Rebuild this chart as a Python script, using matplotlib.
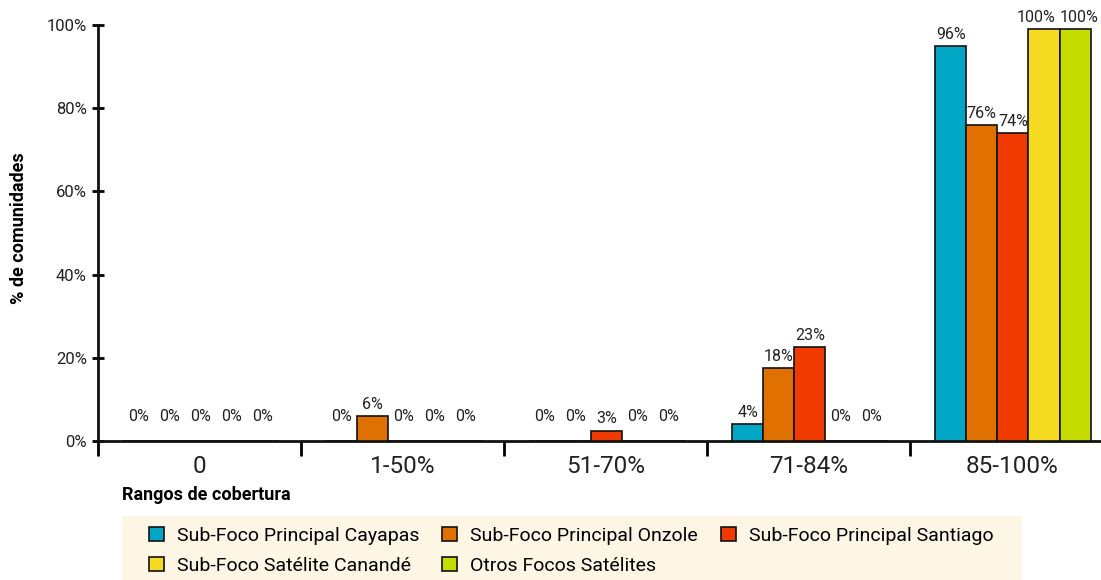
import matplotlib
matplotlib.use('Agg')
import numpy as np
import matplotlib.pyplot as plt
from matplotlib.patches import Patch, Rectangle

plt.rcParams['font.family'] = ['Roboto', 'DejaVu Sans']

# categories and series
categories = ['0', '1-50%', '51-70%', '71-84%', '85-100%']
series = ['Sub-Foco Principal Cayapas', 'Sub-Foco Principal Onzole',
          'Sub-Foco Principal Santiago', 'Sub-Foco Satélite Canandé',
          'Otros Focos Satélites']
colors = ['#00A6C4', '#E07000', '#F03A00', '#F5DA22', '#C4DC00']

# bar heights (as drawn) and printed labels, per series across categories
cayapas = [0, 0, 0, 4, 95]
onzole = [0, 6, 0, 17.5, 76]
santiago = [0, 0, 2.5, 22.5, 74]
canande = [0, 0, 0, 0, 99]
otros = [0, 0, 0, 0, 99]
values = [cayapas, onzole, santiago, canande, otros]

cayapas_lbl = ['0%', '0%', '0%', '4%', '96%']
onzole_lbl = ['0%', '6%', '0%', '18%', '76%']
santiago_lbl = ['0%', '0%', '3%', '23%', '74%']
canande_lbl = ['0%', '0%', '0%', '0%', '100%']
otros_lbl = ['0%', '0%', '0%', '0%', '100%']
labels = [cayapas_lbl, onzole_lbl, santiago_lbl, canande_lbl, otros_lbl]

yticks = [0, 20, 40, 60, 80, 100]

fig = plt.figure(figsize=(11.01, 5.8), dpi=100)
ax = fig.add_axes([98 / 1101, 139 / 580, 1 - 98 / 1101, 416 / 580])

x = np.arange(len(categories))
w = 0.153
for i, (vals, lbls) in enumerate(zip(values, labels)):
    pos = x + (i - 2) * w + 0.007
    ax.bar(pos, vals, w, color=colors[i], edgecolor='#111111', linewidth=1.2, zorder=3)
    for p, v, t in zip(pos, vals, lbls):
        if v > 0:
            # nudge the two touching 100% labels apart a little
            dx = -6 if t == '100%' and i == 3 else (3 if t == '100%' else 0)
            ax.annotate(t, (p, v), xytext=(dx, 3), textcoords='offset points',
                        ha='center', va='bottom', fontsize=11.5, color='#222222')
        else:
            ax.text(p, 4, t, ha='center', va='bottom', fontsize=11.5, color='#222222')

ax.set_yticks(yticks)
ax.set_yticklabels([f'{t}%' for t in yticks], fontsize=12, color='#222222')
ax.tick_params(axis='y', direction='inout', length=8, width=2, pad=4)

# category boundaries as ticks, names at centres
ax.set_xticks(np.arange(len(categories) + 1) - 0.5)
ax.set_xticklabels([])
ax.set_xticks(x, minor=True)
ax.set_xticklabels(categories, minor=True, fontsize=17.5, color='#222222')
ax.tick_params(axis='x', which='major', direction='out', length=11, width=2)
ax.tick_params(axis='x', which='minor', length=0, pad=10)

ax.set_xlim(-0.5, -0.5 + 1003 / 203)
ax.set_ylim(0, 100)

for s in ['top', 'right']:
    ax.spines[s].set_visible(False)
for s in ['left', 'bottom']:
    ax.spines[s].set_linewidth(2)
    ax.spines[s].set_color('#111111')

fig.text(19 / 1101, 1 - 228 / 580, '% de comunidades', fontsize=13,
         fontweight='bold', rotation=90, ha='center', va='center')
fig.text(122 / 1101, 1 - 495 / 580, 'Rangos de cobertura', fontsize=13,
         fontweight='bold', ha='left', va='center')

# legend panel background
fig.add_artist(Rectangle((122 / 1101, 0), 900 / 1101, 64 / 580,
                         transform=fig.transFigure, facecolor='#FEF6E4',
                         edgecolor='none', zorder=0))

handles = [Patch(facecolor=c, edgecolor='#111111', linewidth=1.2) for c in colors]
order = [0, 3, 1, 4, 2]
leg = fig.legend([handles[k] for k in order], [series[k] for k in order],
                 ncol=3, loc='upper left',
                 bbox_to_anchor=(149 / 1101, 1 - 527 / 580),
                 fontsize=14, frameon=False,
                 handlelength=0.77, handleheight=0.77,
                 handletextpad=0.65, columnspacing=1.2, labelspacing=0.6,
                 borderpad=0, borderaxespad=0)

fig.savefig('out.png', dpi=100)
